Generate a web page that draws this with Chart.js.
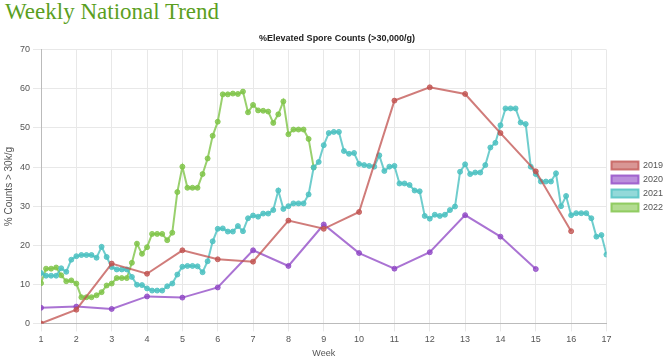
<!DOCTYPE html>
<html>
<head>
<meta charset="utf-8">
<script src="https://cdn.jsdelivr.net/npm/chart.js@4.4.1/dist/chart.umd.min.js"></script>
<style>
	body { margin: 0; background: #fff; }
	#pageTitle { margin: 0; padding: 0 0 0 5px; height: 30px; font-family: "Liberation Serif", serif; font-weight: normal; font-size: 23px; color: #5b9f1f; line-height: 24px; }
	#chartBox { width: 668px; height: 331px; }
</style>
</head>
<body>
<h1 id="pageTitle">Weekly National Trend</h1>
<div id="chartBox"><canvas id="trendChart"></canvas></div>
<script>
//주차 (2019, 2020)
var weeks = [1, 2, 3, 4, 5, 6, 7, 8, 9, 10, 11, 12, 13, 14, 15, 16];

//2019 주간값
var data2019 = [0, 3.5, 15.3, 12.7, 18.7, 16.4, 15.8, 26.3, 24.2, 28.5, 57.0, 60.4, 58.7, 48.7, 38.9, 23.6];

//2020 주간값
var data2020 = [4.0, 4.3, 3.7, 6.9, 6.6, 9.2, 18.7, 14.7, 25.3, 18.0, 14.0, 18.2, 27.7, 22.2, 13.9];

//2021 일별값 (1주 = 7일)
var data2021 = [
	12.9, 12.2, 12.2, 12.2, 14.1, 13.2, 16.3,
	17.2, 17.5, 17.5, 17.5, 16.8, 19.6, 17.0,
	14.4, 13.8, 13.8, 13.8, 11.9, 9.9, 9.8,
	8.95, 8.4, 8.4, 8.4, 9.5, 10.2, 12.5,
	14.5, 14.7, 14.7, 14.6, 13.1, 15.9, 21.0,
	24.2, 24.3, 23.5, 23.5, 24.9, 23.6, 26.9,
	27.6, 27.3, 28.1, 28.1, 29.0, 34.0, 29.3,
	30.0, 30.7, 30.7, 30.7, 33.0, 39.9, 41.3,
	45.6, 48.7, 49.0, 49.0, 44.1, 43.4, 43.6,
	40.8, 40.5, 40.3, 40.1, 43.0, 39.0, 40.1,
	40.3, 35.8, 35.8, 35.4, 34.0, 33.8, 27.5,
	26.8, 27.8, 27.5, 27.8, 29.0, 29.9, 38.8,
	40.7, 38.2, 38.6, 38.6, 40.5, 45.0, 46.2,
	50.7, 55.0, 55.0, 55.0, 51.4, 51.0, 40.1,
	38.2, 36.3, 36.3, 36.3, 38.4, 30.0, 32.6,
	27.7, 28.2, 28.2, 28.2, 26.9, 22.2, 22.6,
	17.6
];

//2022 일별값
var data2022 = [
	10.3, 14.0, 14.0, 14.3, 12.3, 10.8, 11.0,
	10.2, 6.7, 6.7, 6.7, 7.2, 8.0, 9.7,
	10.2, 11.6, 11.6, 11.6, 15.5, 20.4, 17.8,
	19.5, 22.9, 22.9, 22.9, 21.3, 23.2, 33.6,
	40.1, 34.7, 34.7, 34.7, 38.2, 42.2, 48.0,
	51.6, 58.6, 58.6, 58.8, 58.7, 59.3, 54.0,
	55.9, 54.5, 54.4, 54.2, 51.3, 53.5, 56.8,
	48.4, 49.6, 49.6, 49.6, 47.2, 39.9
];

//축 라벨
var yTicks = [0, 10, 20, 30, 40, 50, 60, 70];
var chartTitle = "%Elevated Spore Counts (>30,000/g)";
var xTitle = "Week";
var yTitle = "% Counts > 30k/g";

//주간 데이터 -> {x, y}
function weeklyPoints(values){
	var arr = [];
	for(var i = 0; i < values.length; i++){
		arr.push({x: weeks[i], y: values[i]});
	}
	return arr;
}

//일별 데이터 -> {x, y}
function dailyPoints(values){
	var arr = [];
	for(var i = 0; i < values.length; i++){
		arr.push({x: 1 + i / 7, y: values[i]});
	}
	return arr;
}

function makeSet(label, points, line, fill){
	return {
		label: label,
		data: points,
		borderColor: line,
		backgroundColor: fill,
		pointBackgroundColor: line,
		pointBorderColor: line,
		borderWidth: 2,
		pointRadius: 2.5,
		pointBorderWidth: 1,
		tension: 0,
		fill: false
	};
}

var ctx = document.getElementById("trendChart").getContext("2d");
var trendChart = new Chart(ctx, {
	type: "line",
	data: {
		datasets: [
			makeSet("2019", weeklyPoints(data2019), "rgba(192,80,77,0.75)", "rgba(192,80,77,0.6)"),
			makeSet("2020", weeklyPoints(data2020), "rgba(142,68,196,0.75)", "rgba(142,68,196,0.6)"),
			makeSet("2021", dailyPoints(data2021), "rgba(75,192,192,0.8)", "rgba(75,192,192,0.6)"),
			makeSet("2022", dailyPoints(data2022), "rgba(128,196,72,0.8)", "rgba(128,196,72,0.6)")
		]
	},
	options: {
		responsive: true,
		maintainAspectRatio: false,
		animation: false,
		layout: { padding: { left: 1, right: -5, top: 0, bottom: 0 } },
		plugins: {
			title: {
				display: true,
				text: chartTitle,
				color: "#222",
				font: { family: "Liberation Sans", size: 9, weight: "bold" },
				padding: { top: 3, bottom: 6 }
			},
			legend: {
				position: "right",
				fullSize: false,
				labels: {
					boxWidth: 27,
					boxHeight: 8,
					color: "#555",
					font: { family: "Liberation Sans", size: 9 },
					padding: 5
				}
			},
			tooltip: { enabled: false }
		},
		scales: {
			x: {
				type: "linear",
				min: 1,
				max: 17,
				ticks: { stepSize: 1, color: "#555", font: { family: "Liberation Sans", size: 9 } },
				grid: { color: "#e8e8e8" },
				border: { color: "#bbb" },
				title: { display: true, text: xTitle, color: "#555", font: { family: "Liberation Sans", size: 9 }, padding: { top: 0, bottom: 2 } }
			},
			y: {
				min: 0,
				max: 70,
				afterBuildTicks: function(axis){
					axis.ticks = yTicks.map(function(v){ return {value: v}; });
				},
				ticks: { color: "#555", font: { family: "Liberation Sans", size: 9 } },
				grid: { color: "#e8e8e8" },
				border: { color: "#bbb" },
				title: { display: true, text: yTitle, color: "#555", font: { family: "Liberation Sans", size: 10 }, padding: 2 }
			}
		}
	}
});
</script>
</body>
</html>
